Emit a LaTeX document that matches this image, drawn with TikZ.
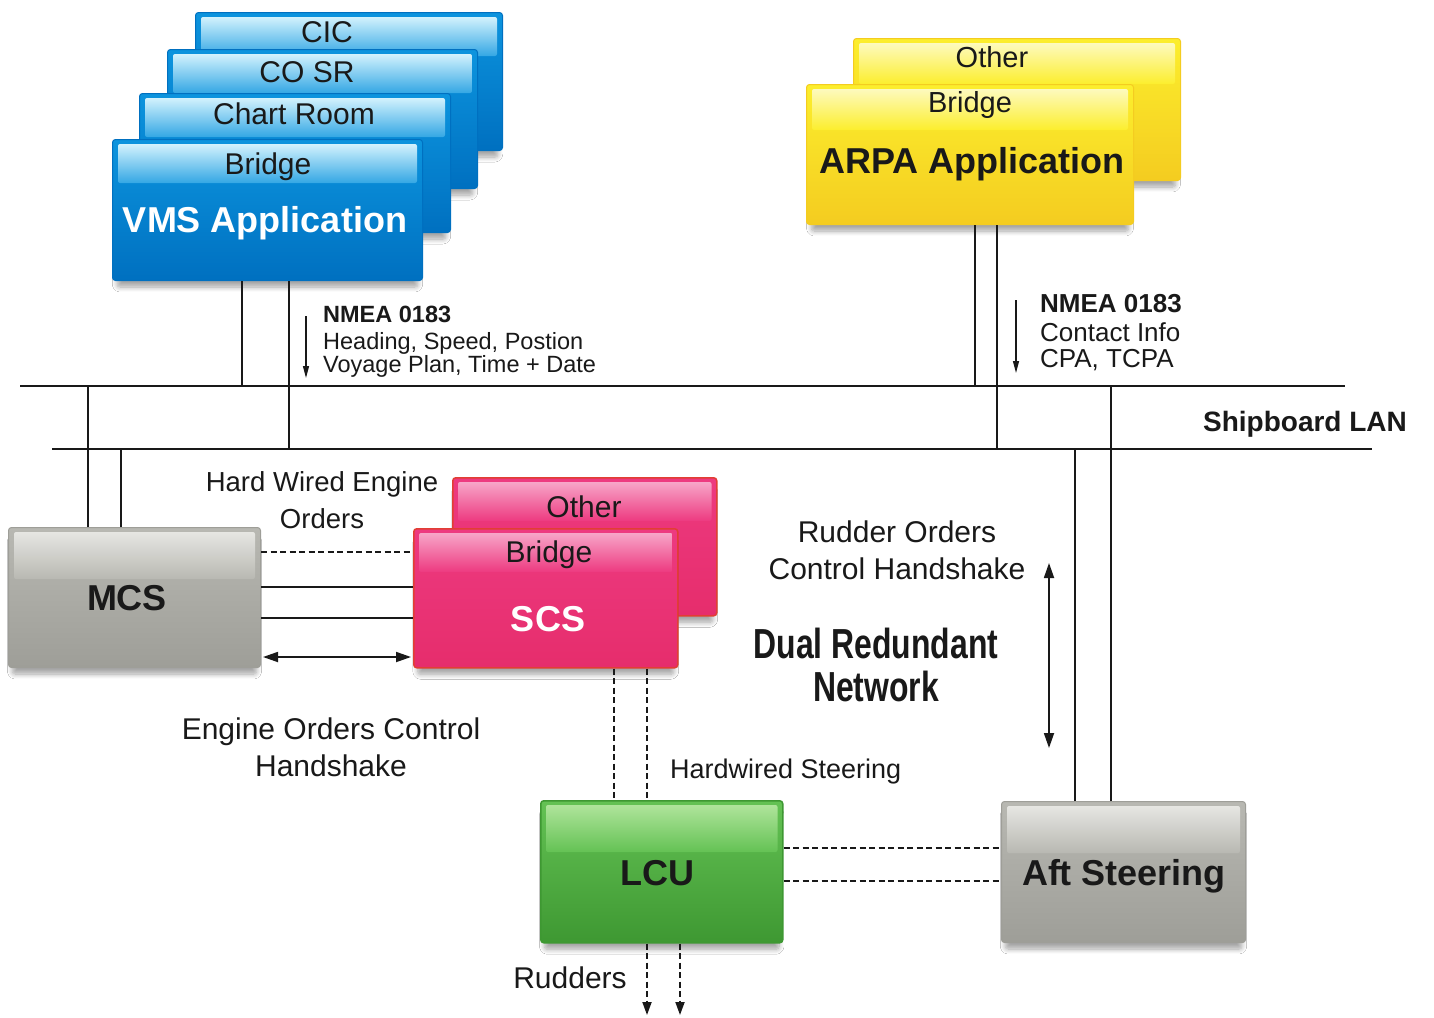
\documentclass[tikz,border=0pt]{standalone}
\usepackage{fontspec}
\setmainfont{Liberation Sans}
\newfontfamily\condfont{Liberation Sans}[FakeStretch=0.76]
\usetikzlibrary{shadows.blur,arrows.meta,calc}
\definecolor{blueA}{RGB}{12,148,222}
\definecolor{blueD}{RGB}{0,112,192}
\definecolor{blueL}{RGB}{210,242,253}
\definecolor{yelA}{RGB}{252,238,45}
\definecolor{yelD}{RGB}{244,204,32}
\definecolor{yelL}{RGB}{253,250,190}
\definecolor{pinkA}{RGB}{237,58,128}
\definecolor{pinkD}{RGB}{230,45,108}
\definecolor{pinkL}{RGB}{247,165,200}
\definecolor{pinkR}{RGB}{226,62,52}
\definecolor{grayA}{RGB}{184,184,178}
\definecolor{grayD}{RGB}{158,158,152}
\definecolor{grayL}{RGB}{230,230,226}
\definecolor{grnA}{RGB}{100,194,84}
\definecolor{grnD}{RGB}{62,152,50}
\definecolor{grnL}{RGB}{175,228,155}
\definecolor{ink}{RGB}{25,25,25}
\newcommand\fsz[1]{\fontsize{#1}{#1}\selectfont}
\newcommand\boxgloss[4]{\shade[top color=#2, bottom color=#3, rounded corners=2pt] ($(#1.north west)+(6,5)$) rectangle ($(#1.north east)+(-6,#4)$);}
\begin{document}
\begin{tikzpicture}[x=1pt,y=-1pt,
  box/.style={rectangle, rounded corners=3pt, inner sep=0pt, anchor=north west,
    blur shadow={shadow xshift=0pt, shadow yshift=-9pt, shadow scale=0.97, shadow blur steps=8, shadow blur radius=5pt, shadow opacity=35}},
  bluebox/.style={box, top color=blueA, bottom color=blueD, draw=blueD, line width=1pt},
  yelbox/.style={box, top color=yelA, bottom color=yelD, draw=yelD, line width=1pt},
  pinkbox/.style={box, top color=pinkA, bottom color=pinkD, draw=pinkR, line width=1.5pt},
  graybox/.style={box, top color=grayA, bottom color=grayD, draw=grayD, line width=1pt},
  grnbox/.style={box, top color=grnA, bottom color=grnD, draw=grnD, line width=1.5pt},
  txt/.style={inner sep=0pt, text=ink, anchor=base},
  conn/.style={line width=1.8pt, draw=ink},
  lan/.style={line width=2.2pt, draw=ink},
  dashc/.style={conn, dash pattern=on 6pt off 3.5pt},
  arrowend/.style={-{Triangle[length=13pt,width=9pt]}},
  arrowboth/.style={{Triangle[length=15pt,width=10pt]}-{Triangle[length=15pt,width=10pt]}},
  smallarrow/.style={line width=1.3pt, draw=ink, -{Triangle[length=12pt,width=6pt]}}
]
\useasboundingbox[fill=white] (0,0) rectangle (1434,1017);

% ---------- blue stack ----------
\node[bluebox, minimum width=307pt, minimum height=138pt] (cic) at (195,12) {};
\boxgloss{cic}{blueL}{blueA!80!blueL}{44}
\node[txt, font=\fsz{30}] (cicT) at (327,42) {CIC};
\node[bluebox, minimum width=310pt, minimum height=139pt] (cosr) at (167,49) {};
\boxgloss{cosr}{blueL}{blueA!80!blueL}{44}
\node[txt, font=\fsz{30}] (cosrT) at (307,82) {CO SR};
\node[bluebox, minimum width=311pt, minimum height=139pt] (chart) at (139,93) {};
\boxgloss{chart}{blueL}{blueA!80!blueL}{44}
\node[txt, font=\fsz{30}] (chartT) at (294,124) {Chart Room};
\node[bluebox, minimum width=310pt, minimum height=141pt] (vms) at (112,139) {};
\boxgloss{vms}{blueL}{blueA!80!blueL}{44}
\node[txt, font=\fsz{30}] (vmsB) at (268,174) {Bridge};
\node[txt, font=\fsz{36}\bfseries, text=white] (vmsT) at (265,232) {VMS Application};

% ---------- yellow stack ----------
\node[yelbox, minimum width=327pt, minimum height=142pt] (arpaO) at (853,38) {};
\boxgloss{arpaO}{yelL}{yelA}{46}
\node[txt, font=\fsz{29}] (arpaOT) at (992,67) {Other};
\node[yelbox, minimum width=327pt, minimum height=140pt] (arpa) at (806,84) {};
\boxgloss{arpa}{yelL}{yelA}{46}
\node[txt, font=\fsz{29}] (arpaB) at (970,112) {Bridge};
\node[txt, font=\fsz{36}\bfseries] (arpaT) at (972,173) {ARPA Application};

% ---------- pink stack ----------
\node[pinkbox, minimum width=264pt, minimum height=138pt] (scsO) at (452,477) {};
\boxgloss{scsO}{pinkL}{pinkA}{44}
\node[txt, font=\fsz{30}] (scsOT) at (584,517) {Other};
\node[pinkbox, minimum width=264pt, minimum height=139pt] (scs) at (413,528) {};
\boxgloss{scs}{pinkL}{pinkA}{44}
\node[txt, font=\fsz{30}] (scsB) at (549,562) {Bridge};
\node[txt, font=\fsz{36}\bfseries, text=white] (scsT) at (548,631) {SCS};

% ---------- gray / green boxes ----------
\node[graybox, minimum width=252pt, minimum height=140pt] (mcs) at (8,527) {};
\boxgloss{mcs}{grayL}{grayA}{52}
\node[txt, font=\fsz{36}\bfseries] (mcsT) at (127,610) {MCS};
\node[grnbox, minimum width=242pt, minimum height=142pt] (lcu) at (540,800) {};
\boxgloss{lcu}{grnL}{grnA}{52}
\node[txt, font=\fsz{36}\bfseries] (lcuT) at (657,885) {LCU};
\node[graybox, minimum width=244pt, minimum height=141pt] (aft) at (1001,801) {};
\boxgloss{aft}{grayL}{grayA}{52}
\node[txt, font=\fsz{36}\bfseries] (aftT) at (1124,885) {Aft Steering};

% ---------- LAN ----------
\coordinate (lan1L) at (20,386);
\coordinate (lan1R) at (1345,386);
\coordinate (lan2L) at (52,449);
\coordinate (lan2R) at (1372,449);
\draw[lan] (lan1L) -- (lan1R);
\draw[lan] (lan2L) -- (lan2R);
\node[txt, font=\fsz{28}\bfseries] (lanT) at (1305,431) {Shipboard LAN};

% ---------- LAN drops ----------
\coordinate (vA) at ($(vms.south west)+(130,0)$);
\coordinate (vB) at ($(vms.south west)+(177,0)$);
\coordinate (aA) at ($(arpa.south west)+(169,0)$);
\coordinate (aB) at ($(arpa.south west)+(191,0)$);
\coordinate (mA) at ($(mcs.north west)+(80,0)$);
\coordinate (mB) at ($(mcs.north west)+(113,0)$);
\coordinate (fA) at ($(aft.north west)+(110,0)$);
\coordinate (fB) at ($(aft.north west)+(74,0)$);
\draw[conn] (vA) -- (vA |- lan1L);
\draw[conn] (vB) -- (vB |- lan2L);
\draw[conn] (aA) -- (aA |- lan1L);
\draw[conn] (aB) -- (aB |- lan2L);
\draw[conn] (mA) -- (mA |- lan1L);
\draw[conn] (mB) -- (mB |- lan2L);
\draw[conn] (fA) -- (fA |- lan1L);
\draw[conn] (fB) -- (fB |- lan2L);

% ---------- NMEA notes ----------
\coordinate (n1s) at (306,316);
\coordinate (n1e) at (306,378);
\draw[smallarrow] (n1s) -- (n1e);
\node[txt, anchor=base west, font=\fsz{23.5}\bfseries] (n1a) at (323,322) {NMEA 0183};
\node[txt, anchor=base west, font=\fsz{23.5}] (n1b) at (323,349) {Heading, Speed, Postion};
\node[txt, anchor=base west, font=\fsz{23.5}] (n1c) at (323,372) {Voyage Plan, Time + Date};
\coordinate (n2s) at (1016,300);
\coordinate (n2e) at (1016,373);
\draw[smallarrow] (n2s) -- (n2e);
\node[txt, anchor=base west, font=\fsz{26}\bfseries] (n2a) at (1040,312) {NMEA 0183};
\node[txt, anchor=base west, font=\fsz{26}] (n2b) at (1040,341) {Contact Info};
\node[txt, anchor=base west, font=\fsz{26}] (n2c) at (1040,367) {CPA, TCPA};

% ---------- MCS - SCS ----------
\coordinate (h1) at ($(mcs.north east)+(0,25)$);
\coordinate (h2) at ($(mcs.north east)+(0,60)$);
\coordinate (h3) at ($(mcs.north east)+(0,91)$);
\coordinate (h4) at ($(mcs.north east)+(2,130)$);
\draw[dashc] (h1) -- (h1 -| scs.west);
\draw[conn] (h2) -- (h2 -| scs.west);
\draw[conn] (h3) -- (h3 -| scs.west);
\draw[conn, arrowboth] (h4) -- ($(h4 -| scs.west)+(-2,0)$);
\node[txt, font=\fsz{27.5}] (hwA) at (322,491) {Hard Wired Engine};
\node[txt, font=\fsz{27.5}] (hwB) at (322,528) {Orders};
\node[txt, font=\fsz{30}] (eoA) at (331,739) {Engine Orders Control};
\node[txt, font=\fsz{30}] (eoB) at (331,776) {Handshake};

% ---------- SCS - LCU ----------
\coordinate (s1) at ($(scs.south west)+(201,0)$);
\coordinate (s2) at ($(scs.south west)+(234,0)$);
\draw[dashc] (s1) -- (s1 |- lcu.north);
\draw[dashc] (s2) -- (s2 |- lcu.north);
\node[txt, anchor=base west, font=\fsz{27}] (hws) at (670,778) {Hardwired Steering};

% ---------- LCU - Aft ----------
\coordinate (l1) at ($(lcu.north east)+(0,48)$);
\coordinate (l2) at ($(lcu.north east)+(0,81)$);
\draw[dashc] (l1) -- (l1 -| aft.west);
\draw[dashc] (l2) -- (l2 -| aft.west);

% ---------- Rudders ----------
\coordinate (rudEnd) at (0,1015);
\coordinate (r1) at ($(lcu.south west)+(107,0)$);
\coordinate (r2) at ($(lcu.south west)+(140,0)$);
\draw[dashc, arrowend] (r1) -- (r1 |- rudEnd);
\draw[dashc, arrowend] (r2) -- (r2 |- rudEnd);
\node[txt, font=\fsz{30}] (rudT) at (570,988) {Rudders};

% ---------- Rudder orders ----------
\coordinate (ro1) at (1049,563);
\coordinate (ro2) at (1049,748);
\draw[conn, arrowboth] (ro1) -- (ro2);
\node[txt, font=\fsz{30}] (roA) at (897,542) {Rudder Orders};
\node[txt, font=\fsz{30}] (roB) at (897,579) {Control Handshake};
\node[txt, font=\fsz{42}\condfont\bfseries] (drA) at (876,658) {Dual Redundant};
\node[txt, font=\fsz{42}\condfont\bfseries] (drB) at (876,701) {Network};
\end{tikzpicture}
\end{document}
